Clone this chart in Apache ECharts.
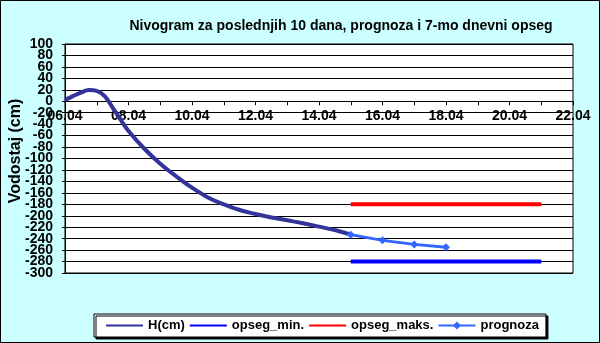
<!DOCTYPE html>
<html>
<head>
<meta charset="utf-8">
<script src="https://cdn.jsdelivr.net/npm/echarts@6/dist/echarts.min.js"></script>
<style>
html,body{margin:0;padding:0;background:#ccffff;}
#c{width:600px;height:343px;}
</style>
</head>
<body>
<div id="c"></div>
<script>
// ---- data ----
const titleText = "Nivogram za poslednjih 10 dana, prognoza i 7-mo dnevni opseg";
const yAxisTitle = "Vodostaj (cm)";
const xTickLabels = ["06.04","08.04","10.04","12.04","14.04","16.04","18.04","20.04","22.04"];
// days counted from 06.04
const hDays   = [0, 0.25, 0.5, 0.75, 1.0, 1.25, 1.5, 1.75, 2.0, 2.5, 3.0, 3.5, 4.0, 4.5, 5.0, 5.5, 6.0, 6.5, 7.0, 7.5, 8.0, 8.5, 9.0];
const hValues = [2, 9, 15, 19.5, 18, 9, -11, -32, -52, -83, -109, -131, -151, -168, -180, -190, -197, -203, -208, -213, -219, -225, -233];
const rangeDays = [9, 15];
const opsegMin  = [-280, -280];
const opsegMaks = [-180, -180];
const progDays   = [9, 10, 11, 12];
const progValues = [-233, -243, -250, -255];

const pair = (xs, ys) => xs.map((x, i) => [x, ys[i]]);
const font = "Liberation Sans, Arial, sans-serif";

const gridLeft = 65, gridRight = 27, gridTop = 44, gridBottom = 70, chartH = 343;
const yMin = -300, yMax = 100, yStep = 20;
const plotH = chartH - gridTop - gridBottom;
const pxPerUnit = plotH / (yMax - yMin);
const zeroOffset = -plotH * (0 - yMin) / (yMax - yMin); // move x axis up to the zero line
const shift = yStep * pxPerUnit; // second label grid is inset by one step

const labelStyle = {fontFamily: font, fontSize: 14, fontWeight: 'bold', color: '#000', margin: 12,
  hideOverlap: false, showMinLabel: true, showMaxLabel: true};

const chart = echarts.init(document.getElementById('c'), null, {renderer: 'canvas'});
chart.setOption({
  backgroundColor: '#ccffff',
  animation: false,
  title: {
    text: titleText,
    left: 336, top: 14, textAlign: 'center',
    textStyle: {fontFamily: font, fontSize: 14, fontWeight: 'bold', color: '#000'}
  },
  grid: [
    {left: gridLeft, right: gridRight, top: gridTop, bottom: gridBottom,
     show: true, backgroundColor: '#fff', borderColor: '#000', borderWidth: 1, outerBoundsMode: 'none'},
    {left: gridLeft, right: gridRight, top: gridTop, bottom: gridBottom, outerBoundsMode: 'none'},
    {left: gridLeft, right: gridRight, top: gridTop + shift, bottom: gridBottom + shift, outerBoundsMode: 'none'}
  ],
  legend: {
    left: 94, top: 314,
    padding: [5, 7, 5, 11],
    itemGap: 4,
    itemWidth: 37, itemHeight: 10,
    backgroundColor: '#fff', borderColor: '#000', borderWidth: 1,
    shadowColor: '#000', shadowBlur: 0, shadowOffsetX: 2, shadowOffsetY: 2,
    textStyle: {fontFamily: font, fontSize: 13, fontWeight: 'bold', color: '#000'},
    data: [
      {name: 'H(cm)', itemStyle: {opacity: 0}},
      {name: 'opseg_min.', itemStyle: {opacity: 0}},
      {name: 'opseg_maks.', itemStyle: {opacity: 0}},
      {name: 'prognoza'}
    ]
  },
  xAxis: [
    {type: 'value', gridIndex: 0, min: 0, max: 16, interval: 2,
     position: 'bottom', offset: zeroOffset,
     axisLine: {onZero: false, lineStyle: {color: '#000', width: 1}},
     axisTick: {show: true, length: 4, lineStyle: {color: '#000'}},
     minorTick: {show: true, splitNumber: 2, length: 4, lineStyle: {color: '#000'}},
     splitLine: {show: false},
     axisLabel: {
       fontFamily: font, fontSize: 14, fontWeight: 'bold', color: '#000', margin: 8,
       showMinLabel: true, showMaxLabel: true,
       formatter: v => xTickLabels[Math.round(v / 2)]
     }},
    {type: 'value', gridIndex: 1, min: 0, max: 16, show: false},
    {type: 'value', gridIndex: 2, min: 0, max: 16, show: false}
  ],
  yAxis: [
    {type: 'value', gridIndex: 0, min: yMin, max: yMax, interval: yStep,
     axisLine: {show: true, onZero: false, lineStyle: {color: '#000', width: 1}},
     axisTick: {show: true, length: 3, lineStyle: {color: '#000'}},
     splitLine: {show: true, lineStyle: {color: '#000', width: 1}},
     axisLabel: {show: false}},
    // labels -300, -260, ..., 100
    {type: 'value', gridIndex: 1, min: yMin, max: yMax, interval: 2 * yStep,
     axisLine: {show: false, onZero: false}, axisTick: {show: false}, splitLine: {show: false},
     axisLabel: labelStyle},
    // labels -280, -240, ..., 80
    {type: 'value', gridIndex: 2, min: yMin + yStep, max: yMax - yStep, interval: 2 * yStep,
     axisLine: {show: false, onZero: false}, axisTick: {show: false}, splitLine: {show: false},
     axisLabel: labelStyle}
  ],
  graphic: [
    {type: 'text', x: 16, y: 151, rotation: Math.PI / 2,
     style: {text: yAxisTitle, font: 'bold 16px ' + font, fill: '#000', align: 'center', verticalAlign: 'middle'}},
    {type: 'rect', shape: {x: 0.5, y: 0.5, width: 599, height: 342}, style: {fill: 'none', stroke: '#000', lineWidth: 1}, silent: true}
  ],
  series: [
    {name: 'H(cm)', type: 'line', smooth: 0.4, symbol: 'none', data: pair(hDays, hValues),
     lineStyle: {color: '#333399', width: 4}, itemStyle: {color: '#333399'}, z: 3},
    {name: 'opseg_min.', type: 'line', symbol: 'none', data: pair(rangeDays, opsegMin),
     lineStyle: {color: '#0000ff', width: 4}, itemStyle: {color: '#0000ff'}},
    {name: 'opseg_maks.', type: 'line', symbol: 'none', data: pair(rangeDays, opsegMaks),
     lineStyle: {color: '#ff0000', width: 4}, itemStyle: {color: '#ff0000'}},
    {name: 'prognoza', type: 'line', symbol: 'diamond', symbolSize: 8, data: pair(progDays, progValues),
     lineStyle: {color: '#3366ff', width: 3}, itemStyle: {color: '#3366ff'}, z: 4}
  ]
});
</script>
</body>
</html>
